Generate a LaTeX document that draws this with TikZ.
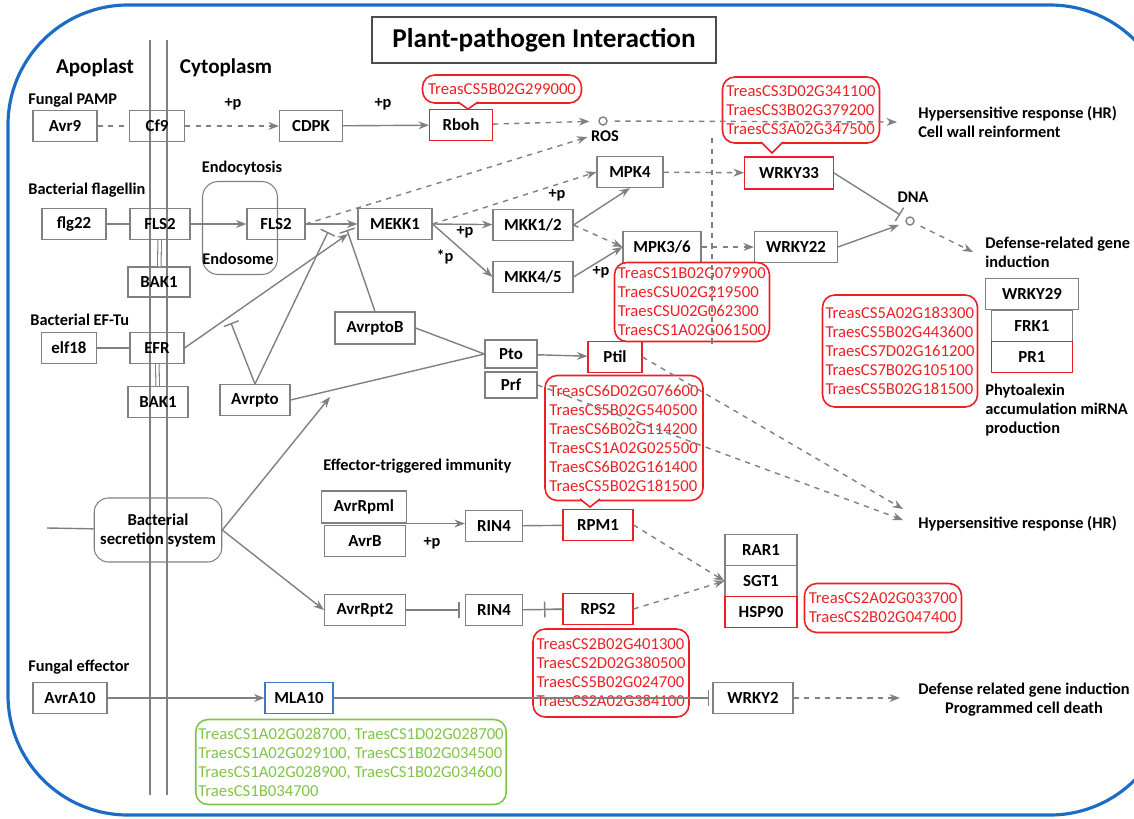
\documentclass[tikz,border=0pt]{standalone}
\usepackage{fontspec}
\setmainfont{Carlito}
\usetikzlibrary{arrows.meta, positioning, calc}
\definecolor{keggred}{RGB}{236, 32, 36}
\definecolor{kegggreen}{RGB}{128, 196, 72}
\definecolor{keggblue}{RGB}{60, 120, 200}
\definecolor{cellblue}{RGB}{28, 108, 196}
\definecolor{edgegray}{RGB}{128, 128, 128}
\newlength{\px}
\setlength{\px}{0.02cm}

\begin{document}
\begin{tikzpicture}[
    x=0.02cm, y=-0.02cm,
    every node/.style={font=\fontsize{9.5}{10.8}\selectfont},
    pbox/.style={rectangle, draw=edgegray, line width=0.6pt, minimum width=#1\px, minimum height=31\px, inner sep=1pt, font=\fontsize{9.6}{10.8}\selectfont\bfseries},
    rbox/.style={pbox=#1, draw=keggred},
    gene/.style={rectangle, rounded corners=7pt, draw=keggred, line width=0.9pt, text=keggred, align=left, inner sep=1.5pt},
    lbl/.style={font=\fontsize{9.3}{10.8}\selectfont\bfseries, inner sep=0pt, align=left},
    plab/.style={font=\fontsize{9.3}{10.8}\selectfont\bfseries, inner sep=0pt, text=black},
    arr/.style={-{Stealth[length=6pt, width=4.5pt]}, edgegray, line width=0.8pt},
    darr/.style={arr, dashed},
    inh/.style={-{Bar[width=9pt]}, edgegray, line width=0.8pt},
    link/.style={edgegray, line width=0.8pt},
    memb/.style={edgegray, double=white, double distance=1.4pt, line width=0.6pt}
]
\useasboundingbox (0,0) rectangle (1134,819);

% cell outline
\begin{scope}
\clip (0,0) rectangle (1134,819);
\draw[cellblue, line width=1.8pt, rounded corners=2.4cm] (8,5) rectangle (1170,815);
\end{scope}

\node[draw=black!70, line width=1.2pt, minimum width=344\px, minimum height=46\px, font=\fontsize{15.5}{18}\selectfont\bfseries] (title) at (544,40) {Plant-pathogen Interaction};

% membrane
\draw[edgegray, line width=1.5pt] (150,40) -- (150,795);
\draw[edgegray, line width=1.5pt] (167,40) -- (167,795);
\node[font=\fontsize{12}{14}\selectfont\bfseries] (apo) at (95,68) {Apoplast};
\node[font=\fontsize{12}{14}\selectfont\bfseries] (cyto) at (226,68) {Cytoplasm};

% PAMP triggered part
\node[lbl, anchor=west] (pamp) at (28,100) {Fungal PAMP};
\node[pbox=64] (avr9) at (65,126) {Avr9};
\node[pbox=55] (cf9) at (157,126) {Cf9};
\node[pbox=63] (cdpk) at (311,126) {CDPK};
\node[rbox=63] (rboh) at (461,125) {Rboh};
\node[gene, minimum width=159\px, minimum height=28\px] (g1) at (502,89) {TreasCS5B02G299000};
\node[circle, draw=edgegray, line width=0.8pt, minimum size=8\px, inner sep=0pt] (ros) at (603,121) {};
\node[lbl] (roslbl) at (605,136) {ROS};
\node[lbl, anchor=west] (hr1) at (918,122) {Hypersensitive response (HR)\\Cell wall reinforment};
\coordinate (hrA) at (897,122);
\node[gene, minimum width=157\px, minimum height=66\px] (g2) at (801,110) {TreasCS3D02G341100\\TraesCS3B02G379200\\TraesCS3A02G347500};

\node[lbl, anchor=west] (flag) at (28,190) {Bacterial flagellin};
\node[pbox=64] (flg22) at (74,224) {flg22};
\node[pbox=60] (fls2) at (160,224) {FLS2};
\node[pbox=62, minimum height=30\px] (bak1a) at (159,282) {BAK1};
\node[draw=edgegray, line width=0.6pt, rounded corners=9pt, minimum width=75\px, minimum height=93\px] (endo) at (240,228) {};
\node[lbl] (endocyt) at (242,168) {Endocytosis};
\node[lbl] (endolbl) at (238,259) {Endosome};
\node[pbox=58] (fls2b) at (276,224) {FLS2};
\node[pbox=74] (mekk1) at (395,224) {MEKK1};
\node[pbox=80] (mkk12) at (533,225) {MKK1/2};
\node[pbox=80] (mkk45) at (533,277) {MKK4/5};
\node[pbox=66] (mpk4) at (630,172) {MPK4};
\node[pbox=78] (mpk36) at (662,247) {MPK3/6};
\node[rbox=89, minimum height=32\px] (wrky33) at (789,173) {WRKY33};
\node[pbox=83] (wrky22) at (796,247) {WRKY22};
\node[gene, minimum width=155\px, minimum height=79\px] (g3) at (692,302) {TreasCS1B02G079900\\TraesCSU02G219500\\TraesCSU02G062300\\TraesCS1A02G061500};
\node[circle, draw=edgegray, line width=0.8pt, minimum size=8\px, inner sep=0pt] (dna) at (910,221) {};
\node[lbl] (dnalbl) at (913,197) {DNA};
\node[lbl, anchor=west] (defense) at (985,252) {Defense-related gene\\induction};
\coordinate (defA) at (973,252);
\node[pbox=93] (wrky29) at (1032,294) {WRKY29};
\node[pbox=81] (frk1) at (1032,326) {FRK1};
\node[rbox=81] (pr1) at (1032,357) {PR1};
\node[gene, minimum width=155\px, minimum height=112\px] (g4) at (900,351) {TreasCS5A02G183300\\TraesCS5B02G443600\\TraesCS7D02G161200\\TraesCS7B02G105100\\TraesCS5B02G181500};
\node[lbl, anchor=north west] (phyto) at (985,384) {Phytoalexin\\accumulation miRNA\\production};

\node[lbl, anchor=west] (eftu) at (30,320) {Bacterial EF-Tu};
\node[pbox=55] (elf18) at (69,348) {elf18};
\node[pbox=54] (efr) at (157,348) {EFR};
\node[pbox=60] (bak1b) at (158,402) {BAK1};
\node[pbox=80, minimum height=32\px] (avrptob) at (375,328) {AvrptoB};
\node[pbox=70] (avrpto) at (255,400) {Avrpto};
\node[pbox=52, minimum height=28\px] (pto) at (511,354) {Pto};
\node[pbox=52, minimum height=26\px] (prf) at (511,385) {Prf};
\node[rbox=54] (ptil) at (615,357) {Ptil};
\node[gene, minimum width=158\px, minimum height=125\px] (g5) at (624,438) {TreasCS6D02G076600\\TraesCS5B02G540500\\TraesCS6B02G114200\\TraesCS1A02G025500\\TraesCS6B02G161400\\TraesCS5B02G181500};
\node[lbl, anchor=west] (hr2) at (918,524) {Hypersensitive response (HR)};
\coordinate (hrB1) at (903,509);
\coordinate (hrB2) at (903,520);
\coordinate (hub) at (348,234);
\coordinate (hubA) at (328,232);
\coordinate (hubB) at (347,230);
\coordinate (efrhit) at (231,323);
\coordinate (ptojoin) at (330,397);

% effector triggered part
\node[draw=edgegray, line width=0.6pt, rounded corners=8pt, minimum width=123\px, minimum height=64\px, align=center, font=\fontsize{9.5}{10.8}\selectfont\bfseries] (secretion) at (158,530) {Bacterial\\secretion system};
\coordinate (secin) at (47,528);
\node[lbl, anchor=west] (eti) at (323,466) {Effector-triggered immunity};
\node[pbox=85, minimum height=32\px] (avrrpml) at (364,507) {AvrRpml};
\node[pbox=81] (avrb) at (365,541) {AvrB};
\node[pbox=57] (rin4a) at (494,526) {RIN4};
\node[rbox=70] (rpm1) at (598,525) {RPM1};
\node[pbox=81] (avrrpt2) at (365,610) {AvrRpt2};
\node[pbox=57] (rin4b) at (494,610) {RIN4};
\node[rbox=70] (rps2) at (598,609) {RPS2};
\node[pbox=72] (rar1) at (761,550) {RAR1};
\node[pbox=72] (sgt1) at (761,581) {SGT1};
\node[rbox=72] (hsp90) at (761,612) {HSP90};
\node[gene, minimum width=157\px, minimum height=49\px] (g6) at (883,608) {TreasCS2A02G033700\\TraesCS2B02G047400};
\node[gene, minimum width=156\px, minimum height=88\px] (g7) at (611,673) {TreasCS2B02G401300\\TraesCS2D02G380500\\TraesCS5B02G024700\\TraesCS2A02G384100};

\node[lbl, anchor=west] (funeff) at (28,667) {Fungal effector};
\node[pbox=74] (avra10) at (70,698) {AvrA10};
\node[pbox=68, draw=keggblue] (mla10) at (299,698) {MLA10};
\node[pbox=80] (wrky2) at (753,698) {WRKY2};
\node[lbl, align=center] (defense2) at (1024,700) {Defense related gene induction\\Programmed cell death};
\coordinate (defB) at (900,698);
\node[gene, draw=kegggreen, text=kegggreen, minimum width=310\px, minimum height=85\px] (g8) at (351,762) {TreasCS1A02G028700, TraesCS1D02G028700\\TraesCS1A02G029100, TraesCS1B02G034500\\TraesCS1A02G028900, TraesCS1B02G034600\\TraesCS1B034700};

% callout tips of the gene boxes
\filldraw[draw=keggred, fill=white, line width=0.9pt] (458,102) -- (468,109) -- (478,102);
\filldraw[draw=keggred, fill=white, line width=0.9pt] (761,142) -- (772,153) -- (783,142);
\filldraw[draw=keggred, fill=white, line width=0.9pt] (580,499) -- (590,507) -- (600,499);

% phosphorylation marks
\node[plab] (p1) at (233,104) {+p};
\node[plab] (p2) at (383,104) {+p};
\node[plab] (p3) at (465,232) {+p};
\node[plab] (p4) at (445,257) {*p};
\node[plab] (p5) at (557,195) {+p};
\node[plab] (p6) at (601,272) {+p};
\node[plab] (p7) at (432,543) {+p};

% connectors
\draw[link, dashed] (avr9) -- (cf9);
\draw[darr] (cf9) -- (cdpk);
\draw[arr] (cdpk) -- (rboh);
\draw[darr, shorten >=5pt] (rboh) -- (ros);
\draw[darr, shorten <=4pt] (ros) -- (hrA);
\draw[link] (flg22) -- (fls2);
\draw[memb] (fls2) -- (bak1a);
\draw[arr] (fls2) -- (fls2b);
\draw[arr] (fls2b) -- (mekk1);
\draw[darr, shorten >=2pt] (fls2b.east) -- (roslbl.west);
\draw[arr] (mekk1.east) -- (mkk12);
\draw[arr] (mekk1.east) -- (mkk45.west);
\draw[darr] (mekk1.east) -- (mpk4.west);
\draw[arr] (mkk12.east) -- (mpk4.south);
\draw[darr] (mkk12.east) -- (mpk36.west);
\draw[arr] (mkk45.east) -- (mpk36.west);
\draw[darr] (mpk4) -- (wrky33);
\draw[darr] (mpk36) -- (wrky22);
\draw[edgegray, line width=0.8pt, dashed] (712,138) -- (712,345);
\draw[inh, shorten >=4pt] (wrky33.east) -- (dna);
\draw[arr, shorten >=4pt] (wrky22.east) -- (dna);
\draw[darr, shorten <=4pt] (dna) -- (defA);
\draw[link] (elf18) -- (efr);
\draw[memb] (efr) -- (bak1b);
\draw[arr] (efr.east) -- (hub);
\draw[inh] (avrpto.north) -- (efrhit);
\draw[inh] (avrpto.north) -- (hubA);
\draw[inh] (avrptob.north) -- (hubB);
\draw[link] (avrptob.east) -- (pto.west);
\draw[link] (avrpto.east) -- (pto.west);
\draw[arr] (pto) -- (ptil);
\draw[darr] (ptil.east) -- (hrB1);
\draw[darr] (prf.east) -- (hrB2);
\draw[link] (secin) -- (secretion);
\draw[arr] (secretion.east) -- (ptojoin);
\draw[arr] (secretion.east) -- (avrrpt2.west);
\draw[arr] (avrrpml.south east) -- (rin4a.west |- avrrpml.south east);
\draw[link] (rin4a) -- (rpm1);
\draw[darr] (rpm1.east) -- (sgt1.west);
\draw[inh, shorten >=3pt] (avrrpt2) -- (rin4b);
\draw[link] (rin4b) -- (rps2);
\draw[inh, shorten >=21\px] (rps2.west) -- (rin4b.east);
\draw[darr] (rps2.east) -- (sgt1.west);
\draw[arr] (avra10) -- (mla10);
\draw[inh, shorten >=2pt] (mla10) -- (wrky2);
\draw[darr] (wrky2) -- (defB);

\end{tikzpicture}
\end{document}
